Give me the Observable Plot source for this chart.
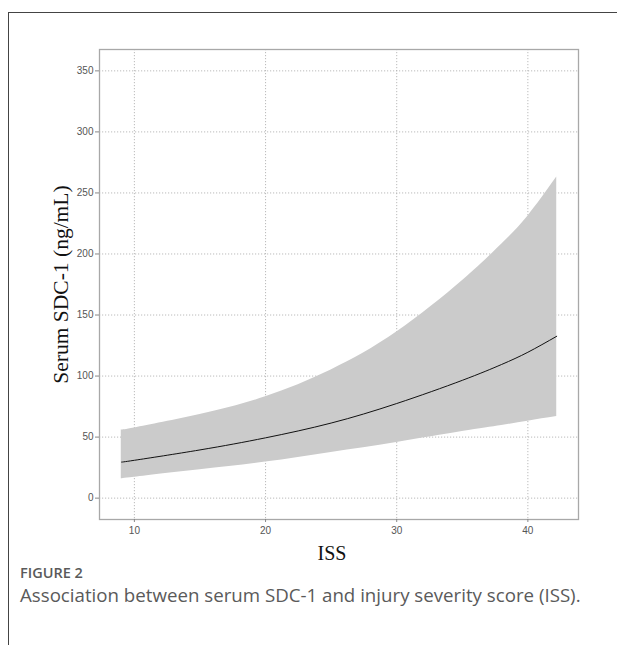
<!DOCTYPE html>
<html>
<head>
<meta charset="utf-8">
<script src="https://cdn.jsdelivr.net/npm/d3@7"></script>
<script src="https://cdn.jsdelivr.net/npm/@observablehq/plot@0.6"></script>
<style>
  html, body { margin: 0; padding: 0; background: #fff; }
  #page { position: relative; width: 617px; height: 651px; overflow: hidden; }
  #frame { position: absolute; left: 8px; top: 12px; width: 620px; height: 633px;
           border-top: 1.5px solid #444; border-left: 1.5px solid #444; box-sizing: border-box; }
  #chart { position: absolute; left: 0; top: 0; }
  #fig { position: absolute; left: 20px; top: 563px; font-family: "Open Sans", sans-serif;
         font-size: 14.5px; font-weight: 600; color: #5a5a5a; }
  #cap { position: absolute; left: 20px; top: 582px; font-family: "Open Sans", sans-serif;
         font-size: 18.7px; color: #5a5a5a; }
</style>
</head>
<body>
<div id="page">
  <div id="frame"></div>
  <div id="chart"></div>
  <div id="fig">FIGURE 2</div>
  <div id="cap">Association between serum SDC-1 and injury severity score (ISS).</div>
</div>
<script>
const iss   = [9, 10, 15, 20, 25, 30, 35, 38, 40, 42.2];
const fit   = [29.5, 31.0, 39.5, 49.4, 61.5, 77.5, 96.5, 109.5, 119.5, 132.6];
const upper = [56, 57.5, 68.5, 83, 105, 136, 178, 208, 231, 263];
const lower = [15.9, 17.2, 23.3, 29.5, 37.4, 45.6, 54.5, 59.5, 63, 66.8];
const xTicks = [10, 20, 30, 40];
const yTicks = [0, 50, 100, 150, 200, 250, 300, 350];

const data = iss.map((x, i) => ({x, fit: fit[i], lo: lower[i], hi: upper[i]}));

const W = 617, H = 570;
const chart = Plot.plot({
  width: W, height: H,
  marginLeft: 99, marginRight: 39, marginTop: 49, marginBottom: H - 519,
  style: {fontFamily: "Arial, 'Liberation Sans', sans-serif", fontSize: "10px", color: "#555", background: "transparent"},
  x: {domain: [7.34, 43.86], ticks: xTicks, tickSize: 3, tickPadding: 4, label: null},
  y: {domain: [-17.5, 367.5], ticks: yTicks, tickSize: 4, tickPadding: 2, label: null},
  marks: [
    Plot.gridX(xTicks, {stroke: "#aaa", strokeOpacity: 1, strokeDasharray: "1.2,1.8", strokeWidth: 0.8}),
    Plot.gridY(yTicks, {stroke: "#aaa", strokeOpacity: 1, strokeDasharray: "1.2,1.8", strokeWidth: 0.8}),
    Plot.areaY(data, {x: "x", y1: "lo", y2: "hi", fill: "#cbcbcb", curve: "natural"}),
    Plot.lineY(data, {x: "x", y: "fit", stroke: "#111", strokeWidth: 1, curve: "natural"}),
    Plot.frame({stroke: "#a8a8a8", strokeWidth: 1.3}),
    Plot.axisX(xTicks, {stroke: "#888", tickSize: 3, tickPadding: 4, fill: "#555", fontSize: 10, label: null}),
    Plot.axisY(yTicks, {stroke: "#888", tickSize: 4, tickPadding: 2, fill: "#555", fontSize: 10, label: null}),
    Plot.text(["ISS"], {frameAnchor: "bottom", dy: 34, dx: -7, text: d => d, fontFamily: "'Liberation Serif', 'Times New Roman', serif", fontSize: 20, fill: "#111", lineAnchor: "middle"}),
    Plot.text(["Serum SDC-1 (ng/mL)"], {frameAnchor: "left", dx: -38, rotate: -90, text: d => d, fontFamily: "'Liberation Serif', 'Times New Roman', serif", fontSize: 21.5, fill: "#111", textAnchor: "middle"})
  ]
});
document.getElementById("chart").appendChild(chart);
</script>
</body>
</html>
